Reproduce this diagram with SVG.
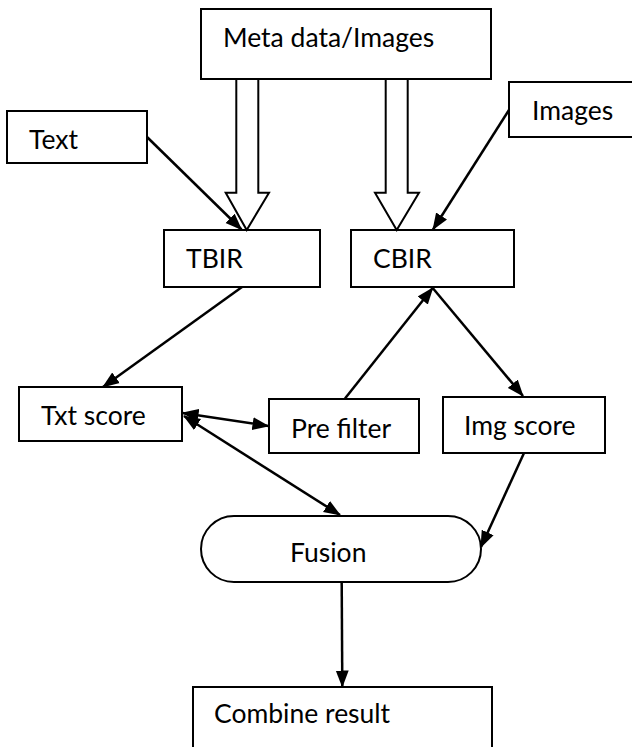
<svg xmlns="http://www.w3.org/2000/svg" width="632" height="747" viewBox="0 0 632 747">
<defs>
<style>
.box{fill:#fff;stroke:#000;stroke-width:2}
.blk{fill:#fff;stroke:#000;stroke-width:2;stroke-linejoin:miter}
.lbl{font-family:Lato,"Open Sans","Liberation Sans",sans-serif;font-size:26.5px;fill:#000}
.con{stroke:#000;stroke-width:2.5;fill:none}
</style>
<marker id="ah" markerUnits="userSpaceOnUse" markerWidth="18" markerHeight="14" refX="16" refY="7" orient="auto-start-reverse" viewBox="0 0 18 14">
<path d="M0,0.5 L17,7 L0,13.5 z" fill="#000"/>
</marker>
</defs>
<rect width="632" height="747" fill="#fff"/>
<g id="meta"><rect class="box" x="201" y="9" width="290" height="70"/><text class="lbl" x="223" y="47">Meta data/Images</text></g>
<g id="text"><rect class="box" x="7" y="111" width="140" height="52"/><text class="lbl" x="29" y="149">Text</text></g>
<g id="images"><rect class="box" x="509" y="82" width="140" height="55"/><text class="lbl" x="532" y="120">Images</text></g>
<g id="tbir"><rect class="box" x="164" y="230" width="156" height="57"/><text class="lbl" x="186" y="268">TBIR</text></g>
<g id="cbir"><rect class="box" x="351" y="230" width="163" height="57"/><text class="lbl" x="373" y="268">CBIR</text></g>
<g id="txtscore"><rect class="box" x="19" y="387" width="163" height="54"/><text class="lbl" x="41" y="425">Txt score</text></g>
<g id="prefilter"><rect class="box" x="269" y="399" width="150" height="54"/><text class="lbl" x="291" y="438">Pre filter</text></g>
<g id="imgscore"><rect class="box" x="443" y="397" width="162" height="56"/><text class="lbl" x="464" y="435">Img score</text></g>
<g id="fusion"><rect class="box" x="201" y="516" width="280" height="66" rx="33" ry="33"/><text class="lbl" x="290" y="562">Fusion</text></g>
<g id="combine"><rect class="box" x="193" y="687" width="299" height="80"/><text class="lbl" x="214" y="723">Combine result</text></g>
<g id="connectors">
<polygon class="blk" points="236.3,79 258.3,79 258.3,192.7 269,192.7 246.7,230 225.7,192.7 236.3,192.7"/>
<polygon class="blk" points="385.7,79 407.7,79 407.7,192.7 419,192.7 396.7,230 375,192.7 385.7,192.7"/>
<line class="con" x1="147" y1="137" x2="241.5" y2="229.5" marker-end="url(#ah)"/>
<line class="con" x1="509" y1="110" x2="433" y2="229.5" marker-end="url(#ah)"/>
<line class="con" x1="242" y1="287" x2="103" y2="387" marker-end="url(#ah)"/>
<line class="con" x1="345" y1="398.5" x2="432.7" y2="288" marker-end="url(#ah)"/>
<line class="con" x1="432.7" y1="288" x2="523" y2="396" marker-end="url(#ah)"/>
<line class="con" x1="182.5" y1="413" x2="268.5" y2="426" marker-start="url(#ah)" marker-end="url(#ah)"/>
<line class="con" x1="184" y1="416" x2="340" y2="515" marker-start="url(#ah)" marker-end="url(#ah)"/>
<line class="con" x1="524" y1="453" x2="481" y2="547" marker-end="url(#ah)"/>
<line class="con" x1="341.7" y1="582" x2="342.3" y2="686.5" marker-end="url(#ah)"/>
</g>
</svg>
